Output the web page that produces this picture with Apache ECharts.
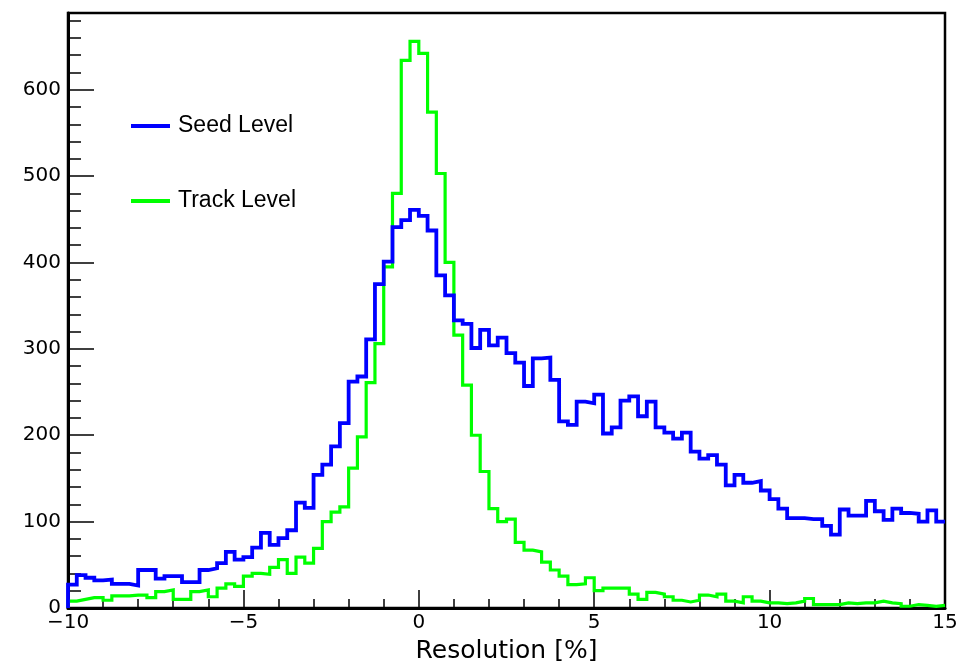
<!DOCTYPE html>
<html>
<head>
<meta charset="utf-8">
<script src="https://cdn.jsdelivr.net/npm/echarts@6/dist/echarts.min.js"></script>
<style>
  html, body { margin: 0; padding: 0; background: #fff; }
  #chart { width: 958px; height: 664px; }
</style>
</head>
<body>
<div id="chart"></div>
<script>
// Histogram binning: 100 bins of width 0.25 from -10 to 15
const binLow = -10;
const binWidth = 0.25;

// Bin contents, left to right
const seedLevel = [
  27, 38, 35, 32, 33, 28, 28, 26, 44, 44,
  34, 37, 37, 30, 30, 44, 46, 52, 65, 56,
  59, 70, 87, 73, 81, 90, 122, 116, 154, 166,
  187, 214, 262, 268, 311, 375, 401, 441, 449, 461,
  454, 437, 385, 362, 333, 329, 301, 322, 304, 313,
  295, 284, 257, 289, 290, 264, 216, 212, 239, 237,
  247, 202, 209, 240, 245, 222, 239, 209, 203, 196,
  203, 181, 173, 177, 166, 142, 154, 145, 147, 136,
  126, 115, 104, 104, 103, 103, 95, 85, 114, 107,
  107, 124, 112, 102, 115, 110, 109, 100, 113, 100
];
const trackLevel = [
  8, 10, 12, 12, 9, 14, 14, 15, 15, 12,
  19, 21, 10, 10, 19, 21, 13, 23, 28, 25,
  37, 40, 39, 47, 56, 40, 59, 52, 69, 100,
  111, 117, 162, 198, 261, 306, 395, 480, 634, 656,
  642, 574, 503, 400, 316, 258, 200, 158, 115, 100,
  103, 76, 67, 65, 53, 44, 37, 27, 28, 35,
  20, 23, 23, 23, 16, 10, 18, 16, 13, 9,
  7, 9, 15, 13, 16, 8, 6, 13, 8, 6,
  6, 5, 6, 8, 11, 4, 4, 4, 6, 5,
  6, 6, 8, 6, 5, 2, 4, 3, 2, 3
];

// Axis settings
const xMin = -10, xMax = 15, xStep = 5;
const yMin = 0, yStep = 100, yMinorStep = 20;
const yMax = 1.05 * Math.max(...seedLevel, ...trackLevel);

// Turn bin contents into step-line points: rise from zero at the low edge,
// one point per bin at its low edge, finish at the high edge.
function histPoints(values) {
  const pts = [[binLow, 0]];
  values.forEach((v, k) => pts.push([binLow + k * binWidth, v]));
  pts.push([binLow + values.length * binWidth, values[values.length - 1]]);
  return pts;
}

const tickFont = 'DejaVu Sans';
const chart = echarts.init(document.getElementById('chart'), null, { renderer: 'canvas' });

chart.setOption({
  animation: false,
  backgroundColor: '#ffffff',
  grid: {
    left: 68, right: 13, top: 13, bottom: 56,
    containLabel: false, outerBoundsMode: 'none',
    show: true, borderColor: '#000', borderWidth: 2.5, backgroundColor: 'transparent'
  },
  legend: {
    orient: 'vertical',
    left: 131, top: 114, padding: 0,
    itemWidth: 39, itemHeight: 4, itemGap: 51,
    icon: 'rect',
    data: ['Seed Level', 'Track Level'],
    textStyle: { fontFamily: 'Liberation Sans', fontSize: 23, color: '#000', lineHeight: 24, padding: [0, 0, 0, 3] }
  },
  xAxis: {
    type: 'value', min: xMin, max: xMax, interval: xStep,
    name: 'Resolution [%]', nameLocation: 'middle', nameGap: 31,
    nameTextStyle: { fontFamily: tickFont, fontSize: 25, color: '#000' },
    axisLine: { show: true, onZero: false, lineStyle: { color: '#000', width: 3 } },
    axisTick: { show: true, inside: true, length: 18, lineStyle: { color: '#000', width: 1.5 } },
    minorTick: { show: true, splitNumber: 5, length: 9, lineStyle: { color: '#000', width: 1.5 } },
    splitLine: { show: false },
    axisLabel: {
      margin: 5, fontFamily: tickFont, fontSize: 20, color: '#000',
      formatter: v => String(v).replace('-', '\u2212')
    }
  },
  yAxis: [
    {
      type: 'value', min: yMin, max: yMax, interval: yStep,
      axisLine: { show: true, onZero: false, lineStyle: { color: '#000', width: 3 } },
      axisTick: { show: true, inside: true, length: 26, lineStyle: { color: '#000', width: 1.5 } },
      splitLine: { show: false },
      axisLabel: { margin: 7, fontFamily: tickFont, fontSize: 20, color: '#000', showMaxLabel: false }
    },
    {
      type: 'value', min: yMin, max: yMax, interval: yMinorStep, position: 'left',
      axisLine: { show: false, onZero: false },
      axisTick: { show: true, inside: true, length: 13, lineStyle: { color: '#000', width: 1.5 } },
      splitLine: { show: false },
      axisLabel: { show: false }
    }
  ],
  series: [
    {
      name: 'Track Level', type: 'line', step: 'end',
      data: histPoints(trackLevel),
      symbol: 'none', color: '#00ff00',
      lineStyle: { color: '#00ff00', width: 3.2, cap: 'butt', join: 'miter' },
      z: 2
    },
    {
      name: 'Seed Level', type: 'line', step: 'end',
      data: histPoints(seedLevel),
      symbol: 'none', color: '#0000ff',
      lineStyle: { color: '#0000ff', width: 3.8, cap: 'butt', join: 'miter' },
      z: 3
    }
  ]
});
</script>
</body>
</html>
